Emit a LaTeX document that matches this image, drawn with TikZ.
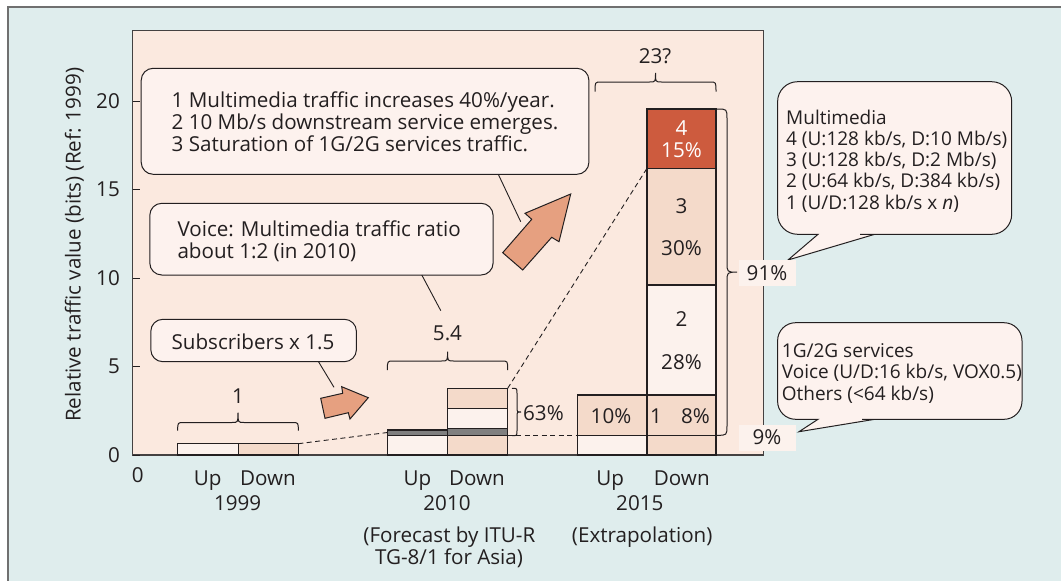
\documentclass[tikz,border=0pt]{standalone}
\usepackage{fontspec}
\setmainfont{Open Sans}
\definecolor{bgblue}{HTML}{DFEDED}
\definecolor{framegray}{HTML}{707070}
\definecolor{plotpink}{HTML}{FBE9DF}
\definecolor{barlight}{HTML}{FCF2ED}
\definecolor{barpeach}{HTML}{F4DACA}
\definecolor{bargray}{HTML}{7F7F7F}
\definecolor{barred}{HTML}{CD5B3E}
\definecolor{arrowfill}{HTML}{E6A080}
\definecolor{calloutfill}{HTML}{FDF2EE}
\definecolor{ink}{HTML}{231F20}
\newcommand{\hbraceup}[6]{% x1,x2,yb,yf,yt,r
  \draw[brace] (#1,#3) .. controls (#1,#4) .. ({#1+#6},#4) -- ({(#1+#2)/2-#6},#4)
    .. controls ({(#1+#2)/2},#4) .. ({(#1+#2)/2},#5)
    .. controls ({(#1+#2)/2},#4) .. ({(#1+#2)/2+#6},#4) -- ({#2-#6},#4)
    .. controls (#2,#4) .. (#2,#3);}
\newcommand{\vbraceright}[6]{% y1,y2,xb,xf,xt,r
  \draw[brace] (#3,#1) .. controls (#4,#1) .. (#4,{#1+#6}) -- (#4,{(#1+#2)/2-#6})
    .. controls (#4,{(#1+#2)/2}) .. (#5,{(#1+#2)/2})
    .. controls (#4,{(#1+#2)/2}) .. (#4,{(#1+#2)/2+#6}) -- (#4,{#2-#6})
    .. controls (#4,#2) .. (#3,#2);}
\tikzset{
  txt/.style={inner sep=0pt, text height=14.7pt, text depth=0pt, font=\fontsize{20.6}{24}\selectfont, text=ink},
  stxt/.style={inner sep=0pt, text height=13.6pt, text depth=0pt, font=\fontsize{19}{23}\selectfont, text=ink, anchor=west},
  seg/.style={draw=ink, line width=1.1pt},
  brace/.style={draw=ink, line width=1pt},
  dashline/.style={draw=ink, line width=0.9pt, dash pattern=on 5pt off 3.5pt},
  callout/.style={draw=ink, line width=1pt, fill=calloutfill},
  pointer/.style={draw=ink, line width=0.9pt},
  bigarrow/.style={draw=ink, line width=1pt, fill=arrowfill, line join=miter},
  pctbox/.style={txt, fill=barlight, minimum width=57pt, minimum height=26pt},
}
\begin{document}
\begin{tikzpicture}[x=1pt,y=-1pt]
\useasboundingbox (0,0) rectangle (1061,581);
\fill[bgblue] (8,7) rectangle (1061,581);
\draw[framegray, line width=1.5pt] (8,581) -- (8,7) -- (1061,7);
% plot area
\draw[fill=plotpink, draw=ink!85, line width=1.2pt] (132.5,30.5) rectangle (763.5,455);
\foreach \v/\y in {0/455,5/366.5,10/278,15/189.5,20/101}{
  \draw[ink, line width=1pt] (132.5,\y) -- (140,\y);
  \node[txt, anchor=east] (tick\v) at (120,\y) {\v};
}
\node[txt, rotate=90] (ylab) at (73.3,244.8) {Relative traffic value (bits) (Ref: 1999)};
% bars 1999
\draw[seg, fill=barlight] (177.7,443.7) rectangle (238.3,455);
\draw[seg, fill=barpeach] (238.3,443.7) rectangle (298.3,455);
% bars 2010
\draw[seg, fill=barlight] (387.4,435.7) rectangle (447.3,455);
\draw[seg, fill=bargray] (387.4,430) rectangle (447.3,435.7);
\draw[seg, fill=barpeach] (447.3,435.7) rectangle (507.7,455);
\draw[seg, fill=bargray] (447.3,428.3) rectangle (507.7,435.7);
\draw[seg, fill=barlight] (447.3,408.3) rectangle (507.7,428.3);
\draw[seg, fill=barpeach] (447.3,388.3) rectangle (507.7,408.3);
% bars 2015
\draw[seg, fill=barlight] (577.7,435.3) rectangle (647,455);
\draw[seg, fill=barpeach] (577.7,395) rectangle (647,435.3);
\draw[seg, fill=barpeach] (647,435.3) rectangle (716,455);
\draw[seg, fill=barpeach] (647,395) rectangle (716,435.3);
\draw[seg, fill=barlight] (647,285) rectangle (716,395);
\draw[seg, fill=barpeach] (647,168.3) rectangle (716,285);
\draw[seg, fill=barred] (647,109) rectangle (716,168.3);
% bar texts
\node[txt] (p10) at (611,416) {10\%};
\node[txt] (s1) at (656,416) {1};
\node[txt] (p8) at (695.5,416) {8\%};
\node[txt] (s2) at (681.5,319.3) {2};
\node[txt] (p28) at (681.5,361.7) {28\%};
\node[txt] (s3) at (681.5,205.7) {3};
\node[txt] (p30) at (681.5,248.3) {30\%};
\node[txt, text=white] (s4) at (681.5,128.5) {4};
\node[txt, text=white] (p15) at (681.5,150.5) {15\%};
% dashed lines
\draw[dashline] (298.3,443.7) -- (387.4,432.5);
\draw[dashline] (507.7,435.7) -- (577.7,435.7);
\draw[dashline] (507.7,388.3) -- (647,168.3);
% braces
\hbraceup{177.7}{298.3}{430.5}{422.5}{412.5}{6}
\node[txt] (b1) at (238,396) {1};
\hbraceup{387.4}{507.7}{370}{361}{351.5}{6}
\node[txt] (b54) at (447.5,333.5) {5.4};
\hbraceup{595}{716}{91.5}{82}{73}{6}
\node[txt] (b23) at (655,56.5) {23?};
\vbraceright{388.3}{435.7}{512}{517}{521}{5}
\node[txt, anchor=west] (p63) at (523,413) {63\%};
\vbraceright{109}{435.3}{717}{727}{737}{10}
% arrows
\draw[bigarrow] (570.7,194) -- (559,241.7) -- (551.7,237.3) -- (522.7,270) -- (502.7,252.7) -- (531.7,219.3) -- (525,213.3) -- cycle;
\draw[bigarrow] (368.3,397.7) -- (350,419) -- (348.3,412.7) -- (325,418.3) -- (320.7,398.3) -- (342.7,393.3) -- (341.7,386.7) -- cycle;
% callouts left
\draw[callout, rounded corners=12] (141.2,68.3) rectangle (588.9,174.3);
\node[txt, anchor=west] (c1a) at (171.5,100) {1 Multimedia traffic increases 40\%/year.};
\node[txt, anchor=west] (c1b) at (171.5,122.3) {2 10 Mb/s downstream service emerges.};
\node[txt, anchor=west] (c1c) at (171.5,144) {3 Saturation of 1G/2G services traffic.};
\draw[pointer] (498.3,174.3) -- (520.7,221.7);
\draw[callout, rounded corners=12] (149.8,203.3) rectangle (493.1,275);
\node[txt, anchor=west] (c2a) at (177.3,229.3) {Voice: Multimedia traffic ratio};
\node[txt, anchor=west] (c2b) at (177.3,250.7) {about 1:2 (in 2010)};
\draw[pointer] (421.8,275) -- (440.8,310.7);
\draw[callout, rounded corners=12] (150.8,319.3) rectangle (356.4,361.7);
\node[txt] (c3) at (253,341.7) {Subscribers x 1.5};
\draw[pointer] (318.5,361.7) -- (334,387.3);
% callouts right
\draw[callout] (788,260) -- (818,234.3) -- (812,234.3) [rounded corners=20] -- (777.6,234.3) -- (777.6,81.7) -- (1011.7,81.7) -- (1011.7,234.3) -- (880,234.3) [sharp corners] -- (874.7,234.3) -- cycle;
\node[stxt] (m0) at (786,117.3) {Multimedia};
\node[stxt] (m4) at (786,138.3) {4 (U:128 kb/s, D:10 Mb/s)};
\node[stxt] (m3) at (786,160) {3 (U:128 kb/s, D:2 Mb/s)};
\node[stxt] (m2) at (786,181) {2 (U:64 kb/s, D:384 kb/s)};
\node[stxt] (m1) at (786,202.3) {1 (U/D:128 kb/s x \textit{n})};
\draw[callout] (799,431.7) -- (818,419.3) -- (812,419.3) [rounded corners=18] -- (777.6,419.3) -- (777.6,322.7) -- (1022,322.7) -- (1022,419.3) -- (880,419.3) [sharp corners] -- (874.7,419.3) -- cycle;
\node[stxt] (g0) at (781.7,351) {1G/2G services};
\node[stxt] (g1) at (781.7,371.7) {Voice (U/D:16 kb/s, VOX0.5)};
\node[stxt] (g2) at (781.7,393.3) {Others (<64 kb/s)};
% percentage boxes
\node[pctbox] (p91) at (767,273) {91\%};
\node[pctbox] (p9) at (767,437.5) {9\%};
% axis labels
\node[txt] (zero) at (137.7,475) {0};
\node[txt] (u99) at (207.6,478.3) {Up};
\node[txt] (d99) at (268,478.3) {Down};
\node[txt] (y99) at (237.6,503.3) {1999};
\node[txt] (u10) at (417.4,478.3) {Up};
\node[txt] (d10) at (477,478.3) {Down};
\node[txt] (y10) at (447,503.3) {2010};
\node[txt] (f10a) at (449.4,535) {(Forecast by ITU-R};
\node[txt] (f10b) at (449,556.7) {TG-8/1 for Asia)};
\node[txt] (u15) at (610.2,478.3) {Up};
\node[txt] (d15) at (681.8,478.3) {Down};
\node[txt] (y15) at (639.8,503.3) {2015};
\node[txt] (e15) at (642.2,535) {(Extrapolation)};
\end{tikzpicture}
\end{document}
